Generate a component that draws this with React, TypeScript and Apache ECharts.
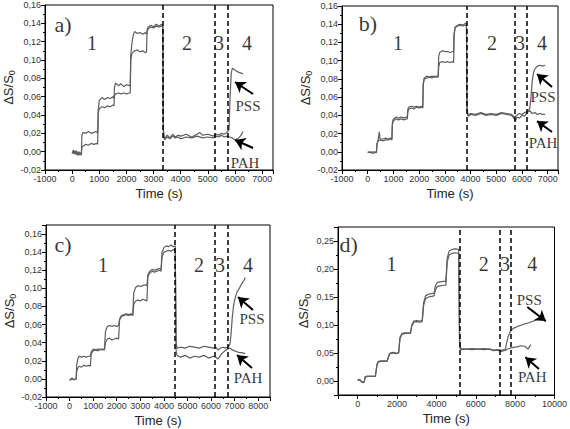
import React, { useEffect, useRef } from 'react';
import * as echarts from 'echarts';

type P = [number, number];

// ---------- Panel a ----------
const pssA: P[] = [
  [0,-0.002],[50,0.002],[100,-0.003],[150,0.001],[200,-0.004],[250,0.000],[300,-0.003],[340,-0.002],
  [360,0.018],[400,0.021],[500,0.020],[600,0.022],[700,0.020],[800,0.021],[900,0.022],[940,0.020],
  [960,0.045],[1000,0.056],[1100,0.059],[1200,0.057],[1300,0.059],[1400,0.058],[1500,0.060],[1540,0.058],
  [1560,0.070],[1600,0.075],[1700,0.072],[1800,0.074],[1900,0.071],[2000,0.073],[2100,0.072],[2140,0.073],
  [2160,0.105],[2200,0.118],[2250,0.127],[2300,0.131],[2400,0.129],[2500,0.130],[2600,0.128],[2700,0.130],[2740,0.128],
  [2760,0.133],[2800,0.136],[2900,0.138],[3000,0.136],[3100,0.139],[3200,0.137],[3300,0.139],[3340,0.138],
  [3360,0.025],[3400,0.014],[3500,0.018],[3600,0.015],[3700,0.019],[3800,0.016],[3900,0.018],[4000,0.017],[4200,0.019],
  [4400,0.016],[4600,0.019],[4700,0.021],[4800,0.018],[5000,0.019],[5200,0.017],[5300,0.019],[5400,0.018],[5500,0.020],
  [5600,0.019],[5700,0.021],[5780,0.024],[5820,0.060],[5860,0.085],[5900,0.091],[6000,0.089],[6100,0.087],[6200,0.086],[6300,0.085],
];
const pahA: P[] = [
  [0,0.000],[50,-0.002],[100,0.001],[150,-0.003],[200,0.000],[250,-0.004],[300,-0.001],[340,-0.004],
  [360,0.005],[400,0.006],[500,0.008],[600,0.007],[700,0.009],[800,0.008],[900,0.009],[940,0.008],
  [960,0.042],[1000,0.047],[1100,0.049],[1200,0.048],[1300,0.050],[1400,0.049],[1500,0.051],[1540,0.050],
  [1560,0.061],[1600,0.063],[1700,0.064],[1800,0.063],[1900,0.064],[2000,0.063],[2100,0.064],[2140,0.064],
  [2160,0.100],[2200,0.107],[2300,0.110],[2400,0.111],[2500,0.109],[2600,0.110],[2700,0.108],[2740,0.109],
  [2760,0.130],[2800,0.134],[2900,0.136],[3000,0.135],[3100,0.137],[3200,0.136],[3300,0.137],[3340,0.136],
  [3360,0.020],[3400,0.013],[3500,0.016],[3600,0.014],[3700,0.017],[3800,0.015],[3900,0.016],[4000,0.014],[4200,0.016],
  [4400,0.015],[4600,0.017],[4800,0.015],[5000,0.016],[5200,0.015],[5300,0.017],[5400,0.016],[5500,0.018],[5600,0.016],
  [5700,0.017],[5800,0.016],[5900,0.015],[6000,0.013],[6100,0.014],[6200,0.017],[6300,0.022],
];
const dashA = [3350, 5270, 5750];

// ---------- Panel b ----------
const pssB: P[] = [
  [0,0.000],[100,-0.001],[200,0.000],[300,-0.001],[340,0.000],
  [360,0.008],[400,0.012],[450,0.022],[480,0.014],[600,0.014],[700,0.015],[800,0.014],[900,0.015],[940,0.014],
  [960,0.032],[1000,0.036],[1100,0.038],[1200,0.037],[1300,0.038],[1400,0.037],[1500,0.038],[1540,0.038],
  [1560,0.047],[1600,0.049],[1700,0.050],[1800,0.049],[1900,0.050],[2000,0.049],[2100,0.050],[2140,0.049],
  [2160,0.075],[2200,0.081],[2300,0.083],[2400,0.082],[2500,0.083],[2600,0.082],[2700,0.083],[2740,0.083],
  [2760,0.105],[2800,0.109],[2900,0.111],[3000,0.110],[3100,0.110],[3200,0.109],[3300,0.110],[3340,0.110],
  [3360,0.130],[3400,0.137],[3500,0.139],[3600,0.140],[3700,0.139],[3800,0.141],[3840,0.140],
  [3860,0.050],[3900,0.040],[4000,0.042],[4200,0.041],[4400,0.043],[4600,0.041],[4800,0.042],[5000,0.041],[5200,0.043],
  [5400,0.042],[5600,0.041],[5700,0.038],[5800,0.040],[5900,0.042],[6000,0.041],[6100,0.043],[6200,0.044],[6300,0.047],
  [6350,0.060],[6400,0.078],[6450,0.087],[6500,0.091],[6600,0.094],[6700,0.095],[6800,0.094],[6900,0.095],
];
const pahB: P[] = [
  [0,-0.001],[100,0.000],[200,-0.002],[300,0.000],[340,-0.001],
  [360,0.009],[400,0.012],[500,0.013],[600,0.012],[700,0.013],[800,0.013],[900,0.014],[940,0.013],
  [960,0.030],[1000,0.034],[1100,0.036],[1200,0.035],[1300,0.036],[1400,0.035],[1500,0.036],[1540,0.036],
  [1560,0.044],[1600,0.047],[1700,0.048],[1800,0.047],[1900,0.049],[2000,0.048],[2100,0.049],[2140,0.048],
  [2160,0.074],[2200,0.080],[2300,0.081],[2400,0.082],[2500,0.081],[2600,0.083],[2700,0.082],[2740,0.082],
  [2760,0.093],[2800,0.098],[2900,0.099],[3000,0.098],[3100,0.099],[3200,0.098],[3300,0.099],[3340,0.098],
  [3360,0.128],[3400,0.136],[3500,0.138],[3600,0.139],[3700,0.138],[3800,0.139],[3840,0.139],
  [3860,0.045],[3900,0.039],[4000,0.041],[4200,0.040],[4400,0.042],[4600,0.040],[4800,0.041],[5000,0.040],[5200,0.042],
  [5400,0.041],[5600,0.040],[5700,0.036],[5750,0.034],[5800,0.038],[5900,0.037],[6000,0.040],[6100,0.039],[6200,0.043],
  [6300,0.045],[6400,0.042],[6500,0.043],[6600,0.041],[6700,0.042],[6800,0.041],[6900,0.041],
];
const dashB = [3870, 5700, 6200];

// ---------- Panel c ----------
const pssC: P[] = [
  [0,-0.001],[100,0.000],[200,-0.001],[280,0.000],
  [300,0.015],[350,0.022],[400,0.025],[500,0.024],[600,0.025],[700,0.024],[800,0.025],[880,0.025],
  [920,0.030],[1000,0.033],[1100,0.032],[1200,0.033],[1300,0.032],[1400,0.033],[1480,0.033],
  [1520,0.052],[1600,0.058],[1700,0.059],[1800,0.058],[1900,0.059],[2000,0.058],[2080,0.059],
  [2120,0.066],[2200,0.070],[2300,0.071],[2400,0.072],[2500,0.071],[2600,0.072],[2680,0.071],
  [2720,0.095],[2800,0.101],[2900,0.103],[3000,0.102],[3100,0.103],[3200,0.104],[3280,0.103],
  [3320,0.115],[3400,0.119],[3500,0.121],[3600,0.120],[3700,0.121],[3800,0.122],[3880,0.121],
  [3920,0.140],[4000,0.145],[4100,0.147],[4200,0.146],[4300,0.148],[4400,0.146],[4480,0.147],
  [4520,0.040],[4560,0.034],[4700,0.035],[4900,0.034],[5100,0.036],[5300,0.035],[5500,0.034],[5700,0.036],[5900,0.035],
  [6100,0.034],[6200,0.035],[6300,0.032],[6400,0.034],[6500,0.035],[6600,0.034],[6700,0.035],[6800,0.038],
  [6850,0.050],[6900,0.068],[6950,0.080],[7000,0.087],[7050,0.092],[7100,0.096],[7200,0.100],[7300,0.105],[7400,0.109],[7450,0.112],
];
const pahC: P[] = [
  [0,-0.002],[100,0.001],[200,-0.001],[280,0.000],
  [300,0.008],[350,0.012],[400,0.014],[500,0.013],[600,0.015],[700,0.014],[800,0.015],[880,0.014],
  [920,0.028],[1000,0.031],[1100,0.032],[1200,0.031],[1300,0.033],[1400,0.032],[1480,0.032],
  [1520,0.040],[1600,0.044],[1700,0.045],[1800,0.043],[1900,0.044],[2000,0.045],[2080,0.044],
  [2120,0.065],[2200,0.069],[2300,0.070],[2400,0.071],[2500,0.070],[2600,0.071],[2680,0.070],
  [2720,0.082],[2800,0.086],[2900,0.087],[3000,0.086],[3100,0.088],[3200,0.087],[3280,0.086],
  [3320,0.113],[3400,0.117],[3500,0.119],[3600,0.118],[3700,0.119],[3800,0.120],[3880,0.119],
  [3920,0.135],[4000,0.140],[4100,0.141],[4200,0.142],[4300,0.141],[4400,0.143],[4480,0.142],
  [4520,0.030],[4560,0.026],[4700,0.024],[4900,0.026],[5100,0.023],[5300,0.025],[5500,0.024],[5700,0.026],[5900,0.023],
  [6100,0.025],[6200,0.024],[6300,0.022],[6400,0.026],[6500,0.029],[6600,0.031],[6700,0.033],[6800,0.034],[6900,0.032],
  [7000,0.031],[7100,0.030],[7200,0.029],[7300,0.029],[7450,0.028],
];
const dashC = [4450, 6170, 6700];

// ---------- Panel d ----------
const pssD: P[] = [
  [0,0.002],[100,0.003],[200,-0.001],[300,-0.002],[340,0.000],
  [380,0.008],[500,0.009],[600,0.008],[700,0.009],[800,0.008],[900,0.009],
  [980,0.030],[1050,0.035],[1200,0.036],[1350,0.035],[1500,0.036],
  [1580,0.046],[1650,0.050],[1800,0.051],[1950,0.050],[2080,0.050],
  [2150,0.078],[2250,0.085],[2400,0.086],[2550,0.085],[2680,0.086],
  [2750,0.100],[2850,0.107],[3000,0.108],[3150,0.107],[3280,0.108],
  [3350,0.140],[3450,0.152],[3600,0.155],[3750,0.156],[3880,0.157],
  [3950,0.170],[4050,0.176],[4200,0.177],[4350,0.178],[4480,0.178],
  [4550,0.220],[4650,0.232],[4800,0.235],[4950,0.236],[5130,0.235],
  [5180,0.065],[5250,0.058],[5500,0.057],[5800,0.058],[6100,0.057],[6400,0.058],[6700,0.057],[6900,0.055],[7100,0.056],
  [7300,0.055],[7500,0.056],[7550,0.065],[7650,0.080],[7750,0.088],[7900,0.094],[8100,0.097],[8400,0.101],[8700,0.104],
  [9000,0.108],[9100,0.110],
];
const pahD: P[] = [
  [0,0.001],[100,0.002],[200,-0.002],[300,-0.003],[340,-0.001],
  [380,0.007],[500,0.008],[600,0.009],[700,0.008],[800,0.009],[900,0.008],
  [980,0.028],[1050,0.034],[1200,0.035],[1350,0.036],[1500,0.035],
  [1580,0.044],[1650,0.049],[1800,0.050],[1950,0.049],[2080,0.050],
  [2150,0.076],[2250,0.083],[2400,0.085],[2550,0.086],[2680,0.085],
  [2750,0.098],[2850,0.105],[3000,0.106],[3150,0.105],[3280,0.106],
  [3350,0.135],[3450,0.147],[3600,0.150],[3750,0.151],[3880,0.152],
  [3950,0.163],[4050,0.169],[4200,0.170],[4350,0.171],[4480,0.171],
  [4550,0.213],[4650,0.225],[4800,0.228],[4950,0.229],[5130,0.228],
  [5180,0.060],[5250,0.056],[5500,0.057],[5800,0.056],[6100,0.057],[6400,0.056],[6700,0.057],[6900,0.054],[7100,0.055],
  [7300,0.053],[7500,0.055],[7700,0.058],[7900,0.060],[8100,0.061],[8300,0.063],[8500,0.062],[8650,0.057],[8800,0.065],
];
const dashD = [5200, 7200, 7800];

// ---------- annotations (text, x, y) in data coordinates ----------
type Note = [string, number, number];
const notesA: Note[] = [['a)', -337, 0.139], ['1', 732, 0.1185], ['2', 4232, 0.1185], ['3', 5411, 0.1185], ['4', 6443, 0.1185], ['PSS', 6480, 0.0498], ['PAH', 6370, -0.0124]];
const notesB: Note[] = [['b)', 11, 0.1413], ['1', 1178, 0.1194], ['2', 4834, 0.1194], ['3', 5923, 0.1194], ['4', 6779, 0.1194], ['PSS', 6818, 0.060], ['PAH', 6818, 0.0096]];
const notesC: Note[] = [['c)', -279, 0.148], ['1', 1417, 0.1258], ['2', 5489, 0.1258], ['3', 6379, 0.1258], ['4', 7566, 0.1258], ['PSS', 7736, 0.0662], ['PAH', 7566, 0.001]];
const notesD: Note[] = [['d)', -457, 0.2446], ['1', 1713, 0.209], ['2', 6400, 0.209], ['3', 7485, 0.209], ['4', 8867, 0.209], ['PSS', 8719, 0.1446], ['PAH', 8867, 0.007]];

type Arrow = [P, P];
const arrowsA: Arrow[] = [[[6664, 0.0629], [6001, 0.076]], [[6664, 0.004], [6001, 0.0127]]];
const arrowsB: Arrow[] = [[[7168, 0.0711], [6584, 0.0854]], [[7168, 0.0217], [6584, 0.0337]]];
const arrowsC: Arrow[] = [[[7778, 0.0761], [7142, 0.0905]], [[7736, 0.012], [7100, 0.0264]]];
const arrowsD: Arrow[] = [[[8620, 0.1321], [9557, 0.107]], [[9212, 0.0215], [8521, 0.0425]]];

const SANS = '"Liberation Sans", Arial, sans-serif';
const SERIF = '"Liberation Serif", "Times New Roman", serif';
const fmtY = (v: number) => v.toFixed(2).replace('.', ',').replace('-0,00', '0,00');

function noteSize(t: string) {
  if (t.endsWith(')')) return 22;
  if (t.length === 1) return 20;
  return 15;
}

interface PanelCfg {
  grid: { left: number; top: number; width: number; height: number };
  x: { min: number; max: number; interval?: number; splitNumber?: number; showMin?: boolean; showMax?: boolean };
  y: { min: number; max: number; interval?: number; splitNumber?: number; showMin?: boolean; showMax?: boolean };
  pss: P[];
  pah: P[];
  dash: number[];
  notes: Note[];
  arrows: Arrow[];
}

const panels: PanelCfg[] = [
  { grid: { left: 45, top: 5, width: 228, height: 165 }, x: { min: -1000, max: 7400, interval: 1000, showMax: false }, y: { min: -0.02, max: 0.16, interval: 0.02 }, pss: pssA, pah: pahA, dash: dashA, notes: notesA, arrows: arrowsA },
  { grid: { left: 342, top: 6, width: 216, height: 164 }, x: { min: -1000, max: 7400, interval: 1000, showMax: false }, y: { min: -0.02, max: 0.16, interval: 0.02 }, pss: pssB, pah: pahB, dash: dashB, notes: notesB, arrows: arrowsB },
  { grid: { left: 46, top: 225, width: 224, height: 172 }, x: { min: -1000, max: 8500, interval: 1000, showMax: false }, y: { min: -0.02, max: 0.17, interval: 0.02, showMax: false }, pss: pssC, pah: pahC, dash: dashC, notes: notesC, arrows: arrowsC },
  { grid: { left: 338, top: 227, width: 223, height: 168 }, x: { min: -1000, max: 10000, splitNumber: 5, showMin: false }, y: { min: -0.025, max: 0.275, splitNumber: 6, showMin: false, showMax: false }, pss: pssD, pah: pahD, dash: dashD, notes: notesD, arrows: arrowsD },
];

export default function App() {
  const ref = useRef<HTMLDivElement>(null);
  useEffect(() => {
    if (!ref.current) return;
    const chart = echarts.init(ref.current, undefined, { renderer: 'svg' });
    const grids: any[] = [];
    const xAxes: any[] = [];
    const yAxes: any[] = [];
    const series: any[] = [];
    panels.forEach((p, i) => {
      grids.push({ ...p.grid, show: true, borderColor: '#000', borderWidth: 1, backgroundColor: 'transparent' });
      xAxes.push({
        type: 'value', gridIndex: i, min: p.x.min, max: p.x.max, interval: p.x.interval, splitNumber: p.x.splitNumber,
        name: 'Time (s)', nameLocation: 'middle', nameGap: 17,
        nameTextStyle: { fontFamily: SANS, fontSize: 13, color: '#222' },
        axisLine: { onZero: false, lineStyle: { color: '#000', width: 1 } },
        axisTick: { length: 4, lineStyle: { color: '#000' } },
        minorTick: { show: true, splitNumber: 2, length: 2, lineStyle: { color: '#000' } },
        splitLine: { show: false },
        axisLabel: { fontFamily: SANS, fontSize: 9, color: '#333', margin: 4, showMinLabel: p.x.showMin, showMaxLabel: p.x.showMax, formatter: (v: number) => String(v) },
      });
      yAxes.push({
        type: 'value', gridIndex: i, min: p.y.min, max: p.y.max, interval: p.y.interval, splitNumber: p.y.splitNumber,
        name: '{a|ΔS/S}{s|0}', nameLocation: 'middle', nameGap: 26,
        nameTextStyle: { fontFamily: SANS, fontSize: 13, color: '#222', rich: { a: { fontFamily: SANS, fontSize: 13, color: '#222' }, s: { fontFamily: SANS, fontSize: 9, color: '#222', padding: [8, 0, 0, 0] } } },
        axisLine: { onZero: false, lineStyle: { color: '#000', width: 1 } },
        axisTick: { length: 4, lineStyle: { color: '#000' } },
        minorTick: { show: true, splitNumber: 2, length: 2, lineStyle: { color: '#000' } },
        splitLine: { show: false },
        axisLabel: { fontFamily: SANS, fontSize: 9, color: '#333', margin: 4, showMinLabel: p.y.showMin, showMaxLabel: p.y.showMax, formatter: fmtY },
      });
      series.push({
        type: 'line', name: 'PSS' + i, xAxisIndex: i, yAxisIndex: i, data: p.pss, showSymbol: false,
        lineStyle: { color: '#5e5e5e', width: 1.2 },
        markLine: {
          silent: true, symbol: ['none', 'none'], label: { show: false },
          lineStyle: { color: '#000', width: 1.5, type: [5, 3] },
          data: p.dash.map((x) => ({ xAxis: x })),
        },
      });
      series.push({
        type: 'line', name: 'PAH' + i, xAxisIndex: i, yAxisIndex: i, data: p.pah, showSymbol: false,
        lineStyle: { color: '#5e5e5e', width: 1.2 },
      });
      series.push({
        type: 'scatter', xAxisIndex: i, yAxisIndex: i, symbolSize: 0, silent: true,
        data: p.notes.map((n) => ({ value: [n[1], n[2]], name: n[0], label: { fontSize: noteSize(n[0]) } })),
        label: { show: true, position: 'inside', formatter: '{b}', color: '#000', fontFamily: SERIF },
        markLine: {
          silent: true, symbol: ['none', 'arrow'], symbolSize: 10, label: { show: false },
          lineStyle: { color: '#000', width: 2, type: 'solid' },
          data: p.arrows.map((a) => [{ coord: a[0] }, { coord: a[1] }]),
        },
      });
    });
    chart.setOption({
      animation: false,
      backgroundColor: '#fff',
      grid: grids,
      xAxis: xAxes,
      yAxis: yAxes,
      series,
    });
    return () => chart.dispose();
  }, []);
  return <div ref={ref} style={{ position: 'absolute', left: 0, top: 0, width: 570, height: 429 }} />;
}
